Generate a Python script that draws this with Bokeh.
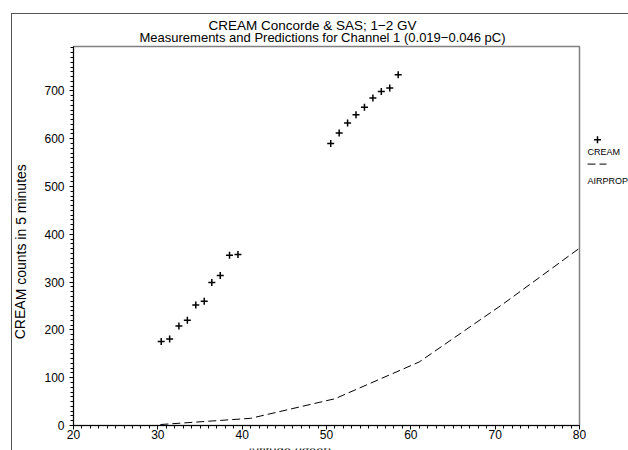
from bokeh.plotting import figure
from bokeh.models import Range1d, FixedTicker
from bokeh.layouts import column, row
from bokeh.embed import file_html
from bokeh.resources import INLINE
from bokeh.core.properties import value

# ---- data ----
cream_alt = [30.4, 31.4, 32.5, 33.5, 34.5, 35.5, 36.4, 37.4, 38.5, 39.5,
             50.5, 51.5, 52.5, 53.5, 54.5, 55.5, 56.5, 57.5, 58.5]
cream_counts = [176, 181, 208, 220, 252, 260, 299, 314, 356, 358,
                590, 612, 633, 650, 666, 685, 699, 706, 734]
airprop_alt = [30.3, 41, 51, 61, 71, 80]
airprop_counts = [2, 15, 56, 133, 255, 371]

x_ticks = [20, 30, 40, 50, 60, 70, 80]
x_minor = list(range(20, 81))
y_ticks = [0, 100, 200, 300, 400, 500, 600, 700]
y_minor = list(range(0, 791, 10))

title_text = "CREAM Concorde & SAS; 1\u22122 GV"
subtitle_text = "Measurements and Predictions for Channel 1 (0.019\u22120.046 pC)"
xlabel_text = "Altitude (kfeet)"
ylabel_text = "CREAM counts in 5 minutes"
legend_labels = ["CREAM", "AIRPROP"]

FONT = "Liberation Sans"
XMIN, XMAX, YMIN, YMAX = 20, 80, 0, 793

# page geometry (pixels): outer box line at x=11 / y=13, content starts at 12 / 14
TOP_Y0, TOP_Y1 = 14, 45        # title strip
MID_Y1 = 443                   # bottom of the main row
BOT_Y1 = 450                   # bottom of the window
LEFT_X0, LEFT_X1 = 12, 32      # y-label strip
LEG_X0, LEG_X1 = 586, 628      # legend strip
STRIP_DY = 4.5                 # measured offset of the side strips


def canvas(x0, x1, y0, y1):
    """A bare figure whose data coordinates are page pixels (y downwards)."""
    f = figure(width=x1 - x0, height=y1 - y0, output_backend="svg", title=None,
               toolbar_location=None, x_range=Range1d(x0, x1),
               y_range=Range1d(y1, y0), x_axis_location=None,
               y_axis_location=None, min_border=0)
    f.min_border_left = f.min_border_right = 0
    f.min_border_top = f.min_border_bottom = 0
    f.xgrid.visible = False
    f.ygrid.visible = False
    f.outline_line_color = None
    f.background_fill_color = "white"
    f.border_fill_color = "white"
    return f


def txt(f, x, y, s, size, align="center", angle=0.0):
    f.text(x=[x], y=[y], text=[s], text_font=value(FONT), text_font_size=size,
           text_align=align, text_baseline="middle", angle=angle,
           text_color="black")


# ---- main plot ----
p = figure(width=LEG_X0 - LEFT_X1, height=MID_Y1 - TOP_Y1, output_backend="svg",
           title=None, toolbar_location=None, x_range=Range1d(XMIN, XMAX),
           y_range=Range1d(YMIN, YMAX), min_border_left=41, min_border_right=7,
           min_border_top=1, min_border_bottom=18)
p.xgrid.visible = False
p.ygrid.visible = False
p.outline_line_color = "#808080"
p.outline_line_width = 1.5
p.background_fill_color = "white"
p.border_fill_color = "white"

for ax, ticks, minor in ((p.xaxis[0], x_ticks, x_minor), (p.yaxis[0], y_ticks, y_minor)):
    ax.ticker = FixedTicker(ticks=ticks, minor_ticks=minor)
    ax.axis_line_color = "black"
    ax.major_tick_line_color = "black"
    ax.minor_tick_line_color = "black"
    ax.major_tick_in = 0
    ax.minor_tick_in = 0
    ax.major_tick_out = 4
    ax.minor_tick_out = 3
    ax.major_label_text_font = FONT
    ax.major_label_text_font_size = "12px"
    ax.major_label_text_color = "black"
p.xaxis[0].major_label_standoff = 0
p.yaxis[0].major_label_standoff = 5

p.line(airprop_alt, airprop_counts, line_color="black", line_width=1,
       line_dash="8 4")
p.scatter(cream_alt, cream_counts, marker="cross", size=7, line_color="black",
          line_width=1.5)

# ---- title strip ----
top = canvas(LEFT_X0, LEG_X1, TOP_Y0, TOP_Y1)
txt(top, 312, 24.5, title_text, "13.5px")
txt(top, 322, 37, subtitle_text, "13px")

# ---- y-label strip ----
left = canvas(LEFT_X0, LEFT_X1, TOP_Y1, MID_Y1)
txt(left, 20, 256 + STRIP_DY, ylabel_text, "14px", angle=1.5707963)

# ---- legend strip ----
leg = canvas(LEG_X0, LEG_X1, TOP_Y1, MID_Y1)
leg.scatter([597], [138.5 + STRIP_DY], marker="cross", size=7,
            line_color="black", line_width=1.5)
txt(leg, 587, 151 + STRIP_DY, legend_labels[0], "9px", align="left")
leg.line([587, 606], [164 + STRIP_DY, 164 + STRIP_DY], line_color="black",
         line_width=1, line_dash="8 4")
txt(leg, 587, 182 + STRIP_DY, legend_labels[1], "9px", align="left")

# ---- x-label strip (cut by the window edge, as in the reference) ----
bot = canvas(LEFT_X0, LEG_X1, MID_Y1, BOT_Y1)
txt(bot, 289, 444.5, xlabel_text, "13px")

layout = column(top, row(left, p, leg), bot)
layout.styles = {"margin-left": "11px", "margin-top": "13px",
                 "border-left": "1px solid #555555",
                 "border-top": "1px solid #555555"}

open("out.html", "w").write(file_html(layout, INLINE))
